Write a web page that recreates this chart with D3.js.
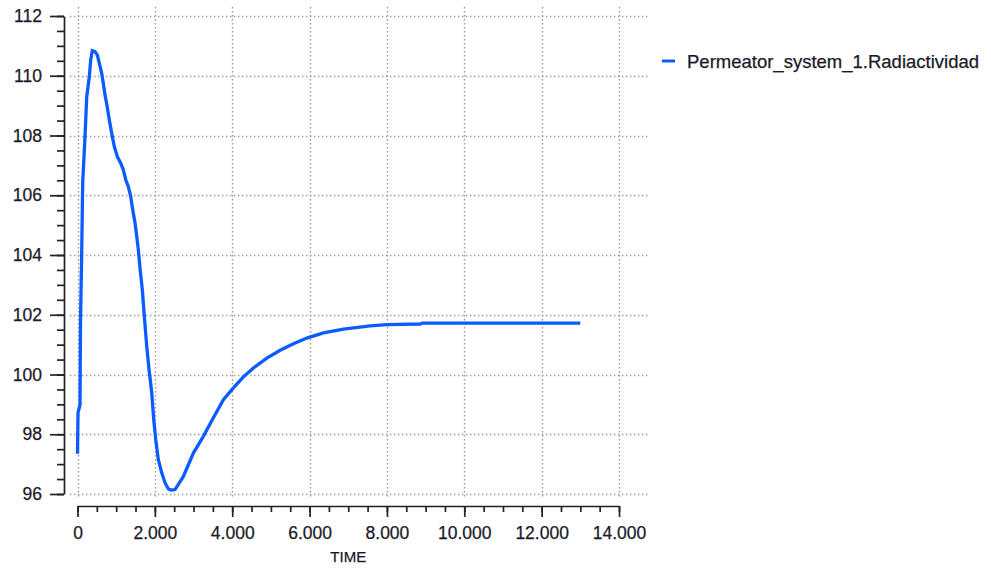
<!DOCTYPE html>
<html>
<head>
<meta charset="utf-8">
<script src="https://cdn.jsdelivr.net/npm/d3@7"></script>
<style>
  body { margin: 0; background: #fff; }
  svg { display: block; font-family: "Liberation Sans", Arial, sans-serif; }
  .axis path, .axis line { stroke: #222; stroke-width: 1.7; }
  .axis text { fill: #1a1a2a; font-size: 17.5px; stroke: #1a1a2a; stroke-width: 0.25; }
  .grid line { stroke: #9a9a9a; stroke-width: 1.4; stroke-dasharray: 1.4,2.6; }
</style>
</head>
<body>
<div id="chart"></div>
<script>
// series: time vs Permeator_system_1.Radiactividad
const time = [0, 13, 65, 78, 109, 135, 194, 238, 305, 341, 383, 453, 512, 564, 626, 667, 711, 767, 823, 885,
  952, 1030, 1118, 1185, 1247, 1314, 1376, 1428, 1488, 1532, 1573, 1620, 1676, 1728, 1790, 1850, 1920, 1971,
  2023, 2090, 2178, 2264, 2349, 2419, 2522, 2737, 2996, 3254, 3513, 3772, 4031, 4289, 4548, 4895, 5239,
  5583, 5929, 6359, 6876, 7567, 7999, 8861, 8912, 13000];
const radiactividad = [97.35, 98.72, 98.99, 101.77, 104.11, 106.45, 107.95, 109.29, 109.96, 110.53, 110.84,
  110.81, 110.70, 110.42, 110.08, 109.75, 109.36, 108.97, 108.52, 108.07, 107.63, 107.29, 107.07, 106.85,
  106.52, 106.29, 105.96, 105.51, 105.07, 104.62, 104.17, 103.51, 102.84, 101.94, 100.94, 100.16, 99.38,
  98.49, 97.82, 97.15, 96.71, 96.37, 96.17, 96.13, 96.15, 96.59, 97.37, 97.93, 98.55, 99.16, 99.55, 99.92,
  100.22, 100.55, 100.81, 101.03, 101.22, 101.39, 101.52, 101.63, 101.67, 101.69, 101.72, 101.72];

const xTicks = [0, 2000, 4000, 6000, 8000, 10000, 12000, 14000];
const xMinor = d3.range(0, 14001, 500);
const yTicks = [96, 98, 100, 102, 104, 106, 108, 110, 112];
const yMinor = d3.range(96, 112.01, 0.5);
const seriesName = 'Permeator_system_1.Radiactividad';
const xTitle = 'TIME';

const width = 991, height = 574;
const svg = d3.select('#chart').append('svg')
    .attr('width', width).attr('height', height);

const x = d3.scaleLinear().domain([0, 14000]).range([77.5, 619]);
const y = d3.scaleLinear().domain([96, 112]).range([494, 16]);

// plot box used by the dotted grid
const gridLeft = 70, gridRight = 649, gridTop = 7, gridBottom = 497;

const grid = svg.append('g').attr('class', 'grid');
grid.selectAll('.gx').data(xTicks).join('line')
    .attr('x1', d => Math.round(x(d)) + 0.5).attr('x2', d => Math.round(x(d)) + 0.5)
    .attr('y1', gridTop).attr('y2', gridBottom);
grid.selectAll('.gy').data(yTicks).join('line')
    .attr('x1', gridLeft).attr('x2', gridRight)
    .attr('y1', d => Math.round(y(d)) + 0.5).attr('y2', d => Math.round(y(d)) + 0.5);

// y axis, offset to the left of the plot
const yAxisX = 64;
svg.append('g').attr('class', 'axis')
    .attr('transform', `translate(${yAxisX},0)`)
    .call(d3.axisLeft(y).tickValues(yMinor).tickSize(7).tickFormat(''))
    .call(g => g.select('.domain').remove());
svg.append('g').attr('class', 'axis')
    .attr('transform', `translate(${yAxisX},0)`)
    .call(d3.axisLeft(y).tickValues(yTicks).tickSize(14).tickSizeOuter(0).tickPadding(8).tickFormat(d3.format('d')));

// x axis, below the plot
const xAxisY = 506;
const fmt = d => d3.format(',')(d).replace(/,/g, '.');
svg.append('g').attr('class', 'axis')
    .attr('transform', `translate(0,${xAxisY})`)
    .call(d3.axisBottom(x).tickValues(xMinor).tickSize(6).tickFormat(''))
    .call(g => g.select('.domain').remove());
svg.append('g').attr('class', 'axis')
    .attr('transform', `translate(0,${xAxisY})`)
    .call(d3.axisBottom(x).tickValues(xTicks).tickSize(11).tickSizeOuter(0).tickPadding(10).tickFormat(fmt));

svg.append('text')
    .attr('x', (x.range()[0] + x.range()[1]) / 2).attr('y', 562)
    .attr('text-anchor', 'middle')
    .attr('font-size', 15).attr('fill', '#1a1a2a')
    .attr('stroke', '#1a1a2a').attr('stroke-width', 0.25)
    .text(xTitle);

// the series
const line = d3.line().x((d, i) => x(time[i])).y(d => y(d));
svg.append('path')
    .datum(radiactividad)
    .attr('fill', 'none')
    .attr('stroke', '#0a5cff')
    .attr('stroke-width', 3.3)
    .attr('stroke-linejoin', 'miter')
    .attr('d', line);

// legend
const legend = svg.append('g').attr('transform', 'translate(662,61)');
legend.append('line').attr('x1', 0).attr('x2', 13).attr('y1', 0).attr('y2', 0)
    .attr('stroke', '#0a5cff').attr('stroke-width', 3);
legend.append('text').attr('x', 25).attr('y', 6.5)
    .attr('font-size', 18.5).attr('fill', '#1a1a2a')
    .attr('stroke', '#1a1a2a').attr('stroke-width', 0.25)
    .text(seriesName);
</script>
</body>
</html>
